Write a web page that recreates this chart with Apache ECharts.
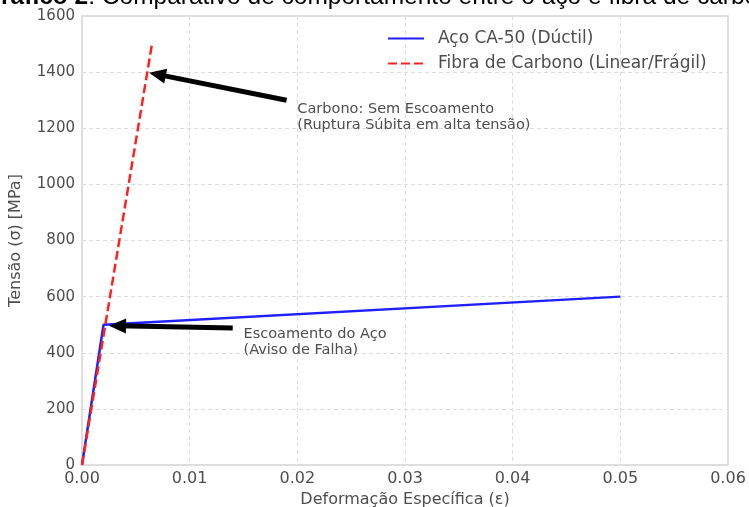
<!DOCTYPE html>
<html>
<head>
<meta charset="utf-8">
<script src="https://cdn.jsdelivr.net/npm/echarts@6/dist/echarts.min.js"></script>
<style>
html,body{margin:0;padding:0;background:#fff;}
#chart{width:749px;height:507px;}
</style>
</head>
<body>
<div id="chart"></div>
<script>
// ---- data ----
const steelName = 'Aço CA-50 (Dúctil)';
const carbonName = 'Fibra de Carbono (Linear/Frágil)';
const steelStrain = [0, 0.002, 0.05];
const steelStress = [0, 500, 600];
const carbonStrain = [0, 0.0065];
const carbonStress = [0, 1500];
const xTicks = [0, 0.01, 0.02, 0.03, 0.04, 0.05, 0.06];
const yTicks = [0, 200, 400, 600, 800, 1000, 1200, 1400, 1600];
const annoTexts = ['Carbono: Sem Escoamento\n(Ruptura Súbita em alta tensão)', 'Escoamento do Aço\n(Aviso de Falha)'];
const annoTextX = [0.02, 0.015];
const annoTextY = [1300, 500];
const arrowTipX = [0.0070, 0.0033];
const arrowTipY = [1392, 496];
const arrowTailX = [0.019, 0.014];
const arrowTailY = [1300, 488];
const titleBold = 'Gráfico 2';
const titleRest = ': Comparativo de comportamento entre o aço e fibra de carbono';

const toPairs = (xs, ys) => xs.map((x, i) => [x, ys[i]]);
const font = 'DejaVu Sans';
const txt = '#4d4d4d';

const chart = echarts.init(document.getElementById('chart'), null, {renderer: 'canvas'});
chart.setOption({
  animation: false,
  backgroundColor: '#fff',
  graphic: [{
    type: 'text', left: -18, top: -15, silent: true,
    style: {
      text: '{b|' + titleBold + '}{n|' + titleRest + '}',
      rich: {
        b: {fontFamily: 'Liberation Sans', fontWeight: 'bold', fontSize: 24.5, fill: '#000'},
        n: {fontFamily: 'Liberation Sans', fontSize: 24.5, fill: '#000'}
      }
    }
  }],
  grid: {left: 82, right: 21, top: 16, bottom: 42, show: true, borderColor: '#d4d4d4', borderWidth: 1.5,
         containLabel: false, outerBoundsMode: 'none'},
  legend: {
    data: [steelName, carbonName],
    orient: 'vertical', left: 387, top: 30, padding: 0,
    itemWidth: 36, itemHeight: 14, itemGap: 8,
    itemStyle: {opacity: 0},
    textStyle: {fontFamily: font, fontSize: 17, color: txt, padding: [0, 0, 0, 9]}
  },
  xAxis: {
    type: 'value', min: xTicks[0], max: xTicks[xTicks.length - 1], interval: 0.01,
    name: 'Deformação Específica (ε)', nameLocation: 'middle', nameGap: 27,
    nameTextStyle: {fontFamily: font, fontSize: 16, color: txt},
    axisLine: {show: false}, axisTick: {show: false},
    axisLabel: {margin: 6, fontFamily: font, fontSize: 16, color: txt, formatter: v => v.toFixed(2)},
    splitLine: {show: true, lineStyle: {color: '#dcdcdc', type: [4, 3], width: 1}}
  },
  yAxis: {
    type: 'value', min: yTicks[0], max: yTicks[yTicks.length - 1], interval: 200,
    name: 'Tensão (σ) [MPa]', nameLocation: 'middle', nameGap: 58,
    nameTextStyle: {fontFamily: font, fontSize: 16, color: txt},
    axisLine: {show: false}, axisTick: {show: false},
    axisLabel: {margin: 7, fontFamily: font, fontSize: 15, color: txt, formatter: v => String(v)},
    splitLine: {show: true, lineStyle: {color: '#dcdcdc', type: [4, 3], width: 1}}
  },
  series: [
    {
      name: steelName, type: 'line', data: toPairs(steelStrain, steelStress),
      symbol: 'none', lineStyle: {color: '#1f1fff', width: 2.5}, itemStyle: {color: '#1f1fff'}, z: 3
    },
    {
      name: carbonName, type: 'line', data: toPairs(carbonStrain, carbonStress),
      symbol: 'none', lineStyle: {color: '#ff2020', width: 2.5, type: [9, 4]}, itemStyle: {color: '#ff2020'}, z: 4
    },
    {
      name: 'annotations', type: 'line', data: [], silent: true, z: 5,
      markLine: {
        silent: true, animation: false,
        symbol: ['none', 'triangle'], symbolSize: [15, 17],
        lineStyle: {color: '#000', width: 5, type: 'solid'},
        itemStyle: {color: '#000'},
        label: {show: false},
        data: arrowTipX.map((x, i) => [
          {coord: [arrowTailX[i], arrowTailY[i]]},
          {coord: [x, arrowTipY[i]]}
        ])
      },
      markPoint: {
        silent: true, animation: false, symbol: 'circle', symbolSize: 0,
        label: {
          show: true, position: [0, 0], align: 'left', verticalAlign: 'top', offset: [0, 1.5],
          fontFamily: font, fontSize: 14.5, lineHeight: 16, color: txt,
          formatter: p => annoTexts[p.dataIndex]
        },
        data: annoTextX.map((x, i) => ({coord: [x, annoTextY[i]], value: i}))
      }
    }
  ]
});
</script>
</body>
</html>
